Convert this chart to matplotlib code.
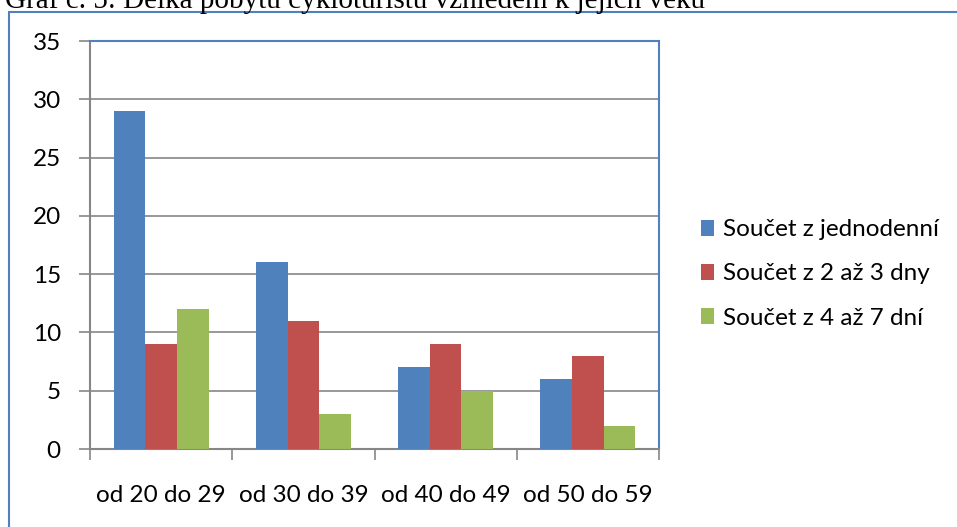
import matplotlib
matplotlib.use("Agg")
import matplotlib.pyplot as plt
import numpy as np
from matplotlib.patches import Rectangle

categories = ["od 20 do 29", "od 30 do 39", "od 40 do 49", "od 50 do 59"]
series_names = ["Součet z jednodenní", "Součet z 2 až 3 dny", "Součet z 4 až 7 dní"]
jednodenni = [29, 16, 7, 6]
dva_az_tri = [9, 11, 9, 8]
ctyri_az_sedm = [12, 3, 5, 2]
yticks = [0, 5, 10, 15, 20, 25, 30, 35]
title = "Graf č. 5: Délka pobytu cykloturistů vzhledem k jejich věku"

colors = ["#4F81BD", "#C0504D", "#9BBB59"]
W, H = 957, 527
fig = plt.figure(figsize=(W / 100, H / 100), dpi=100)
font = ["Lato", "DejaVu Sans"]
fs = 17.5

# outer chart border
fig.patches.append(Rectangle((9 / W, -0.1), 1.2, 1 - 12 / H + 0.1, transform=fig.transFigure,
                             fill=False, edgecolor="#4F81BD", linewidth=1.5))
fig.text(5 / W, 1 - 8 / H, title, family=["Liberation Serif"], fontsize=21,
         va="baseline", ha="left")

ax = fig.add_axes([90 / W, 1 - 449 / H, (659 - 90) / W, (449 - 41) / H])
x = np.arange(len(categories))
bw = 1 / 4.5
for i, (vals, name) in enumerate(zip([jednodenni, dva_az_tri, ctyri_az_sedm], series_names)):
    ax.bar(x + (i - 1) * bw, vals, width=bw, color=colors[i], label=name, zorder=3,
           edgecolor="none")

ax.set_xlim(-0.5, len(categories) - 0.5)
ax.set_ylim(0, 35)
ax.set_yticks(yticks)
ax.set_yticklabels([str(t) for t in yticks], family=font, fontsize=fs)
ax.yaxis.grid(True, color="#868686", linewidth=1.2, zorder=0)
ax.set_axisbelow(True)

ax.set_xticks(x)
ax.set_xticklabels(categories, family=font, fontsize=fs)
ax.tick_params(axis="x", length=0, pad=26)
ax.set_xticks(np.arange(len(categories) + 1) - 0.5, minor=True)
ax.tick_params(axis="x", which="minor", length=8, color="#868686", width=1.2)
ax.tick_params(axis="y", length=8, color="#868686", width=1.2, pad=13)

for s in ["left", "bottom"]:
    ax.spines[s].set_color("#868686")
    ax.spines[s].set_linewidth(1.5)
for s in ["top", "right"]:
    ax.spines[s].set_color("#4F81BD")
    ax.spines[s].set_linewidth(1.5)

leg = fig.legend(loc="center left", bbox_to_anchor=(701 / W, 1 - 274 / H), frameon=False,
                 prop={"family": font, "size": fs}, handlelength=0.55, handleheight=0.6,
                 handletextpad=0.35, labelspacing=0.95, borderaxespad=0, borderpad=0)

fig.savefig("out.png", dpi=100)
